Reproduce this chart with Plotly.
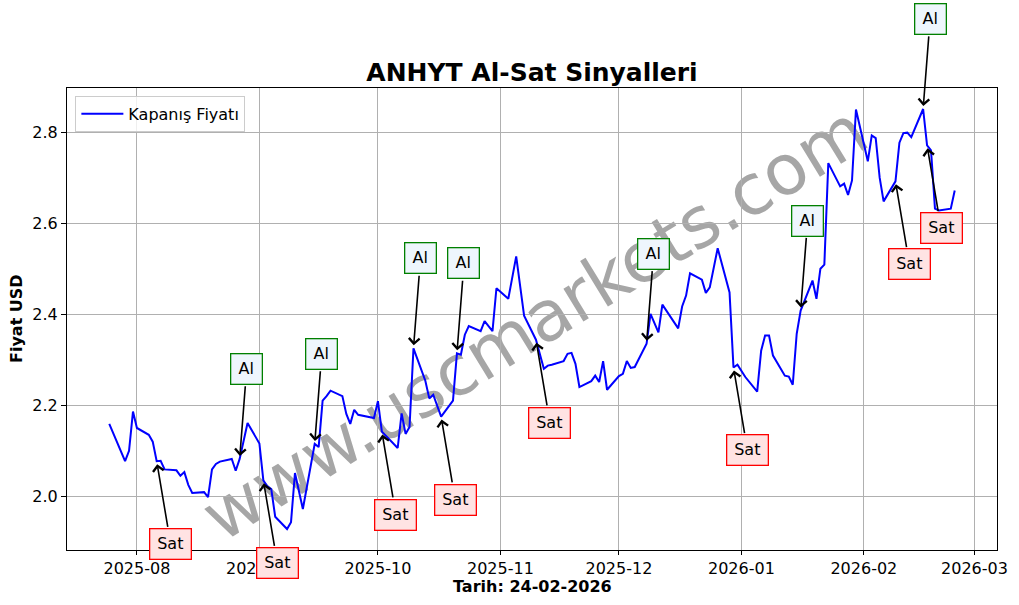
import plotly.graph_objects as go
import pandas as pd

# ---- data ----
dates = [
    "2025-07-25", "2025-07-29", "2025-07-30", "2025-07-31", "2025-08-01",
    "2025-08-04", "2025-08-05", "2025-08-06", "2025-08-07", "2025-08-08",
    "2025-08-11", "2025-08-12", "2025-08-13", "2025-08-14", "2025-08-15",
    "2025-08-18", "2025-08-19", "2025-08-20", "2025-08-21", "2025-08-22",
    "2025-08-25", "2025-08-26", "2025-08-27", "2025-08-29",
    "2025-09-01", "2025-09-02", "2025-09-03", "2025-09-04", "2025-09-05",
    "2025-09-08", "2025-09-09", "2025-09-10", "2025-09-12",
    "2025-09-15", "2025-09-16", "2025-09-17", "2025-09-18", "2025-09-19",
    "2025-09-22", "2025-09-23", "2025-09-24", "2025-09-25", "2025-09-26",
    "2025-09-29", "2025-09-30", "2025-10-01", "2025-10-02",
    "2025-10-06", "2025-10-07", "2025-10-08", "2025-10-09", "2025-10-10",
    "2025-10-13", "2025-10-14", "2025-10-15", "2025-10-17",
    "2025-10-20", "2025-10-21", "2025-10-22", "2025-10-23", "2025-10-24",
    "2025-10-27", "2025-10-28", "2025-10-30", "2025-10-31",
    "2025-11-03", "2025-11-04", "2025-11-05", "2025-11-07",
    "2025-11-10", "2025-11-12", "2025-11-13", "2025-11-14",
    "2025-11-17", "2025-11-18", "2025-11-19", "2025-11-20", "2025-11-21",
    "2025-11-24", "2025-11-25", "2025-11-26", "2025-11-27", "2025-11-28",
    "2025-12-01", "2025-12-02", "2025-12-03", "2025-12-04", "2025-12-05",
    "2025-12-08", "2025-12-09", "2025-12-11", "2025-12-12",
    "2025-12-16", "2025-12-17", "2025-12-18", "2025-12-19",
    "2025-12-22", "2025-12-23", "2025-12-24", "2025-12-26",
    "2025-12-29", "2025-12-30", "2025-12-31", "2026-01-02",
    "2026-01-05", "2026-01-06", "2026-01-07", "2026-01-08", "2026-01-09",
    "2026-01-12", "2026-01-13", "2026-01-14", "2026-01-15", "2026-01-16",
    "2026-01-19", "2026-01-20", "2026-01-21", "2026-01-22", "2026-01-23",
    "2026-01-26", "2026-01-27", "2026-01-28", "2026-01-29", "2026-01-30",
    "2026-02-02", "2026-02-03", "2026-02-04", "2026-02-05", "2026-02-06",
    "2026-02-09", "2026-02-10", "2026-02-11", "2026-02-12", "2026-02-13",
    "2026-02-16", "2026-02-17", "2026-02-18", "2026-02-19", "2026-02-20",
    "2026-02-23", "2026-02-24",
]
close = [
    2.159, 2.077, 2.100, 2.186, 2.150,
    2.135, 2.120, 2.077, 2.078, 2.059,
    2.057, 2.045, 2.053, 2.025, 2.007,
    2.009, 1.998, 2.059, 2.071, 2.076,
    2.082, 2.056, 2.082, 2.161,
    2.116, 2.035, 2.022, 2.016, 1.955,
    1.928, 1.943, 2.051, 1.972,
    2.115, 2.108, 2.210, 2.220, 2.232,
    2.220, 2.181, 2.159, 2.190, 2.179,
    2.175, 2.172, 2.209, 2.142,
    2.106, 2.182, 2.137, 2.152, 2.325,
    2.254, 2.215, 2.223, 2.175,
    2.210, 2.314, 2.311, 2.355, 2.374,
    2.363, 2.385, 2.363, 2.457,
    2.434, 2.481, 2.527, 2.397,
    2.344, 2.280, 2.287, 2.289,
    2.297, 2.313, 2.315, 2.291, 2.240,
    2.253, 2.265, 2.251, 2.297, 2.234,
    2.264, 2.269, 2.297, 2.282, 2.284,
    2.335, 2.401, 2.360, 2.421,
    2.369, 2.417, 2.441, 2.490,
    2.476, 2.447, 2.459, 2.545,
    2.448, 2.283, 2.289, 2.262,
    2.230, 2.320, 2.353, 2.353, 2.309,
    2.265, 2.263, 2.245, 2.357, 2.408,
    2.474, 2.434, 2.500, 2.509, 2.732,
    2.681, 2.687, 2.662, 2.694, 2.850,
    2.736, 2.793, 2.787, 2.700, 2.648,
    2.692, 2.777, 2.798, 2.799, 2.789,
    2.851, 2.771, 2.760, 2.632, 2.628,
    2.632, 2.672,
]

signal_dates = [
    "2025-08-06", "2025-08-27", "2025-09-02", "2025-09-15", "2025-10-02",
    "2025-10-10", "2025-10-17", "2025-10-21", "2025-11-10", "2025-12-08",
    "2025-12-30", "2026-01-16", "2026-02-09", "2026-02-16", "2026-02-17",
]
signal_types = [
    "Sat", "Al", "Sat", "Al", "Sat",
    "Al", "Sat", "Al", "Sat", "Al",
    "Sat", "Al", "Sat", "Al", "Sat",
]

title_text = "ANHYT Al-Sat Sinyalleri"
x_label = "Tarih: 24-02-2026"
y_label = "Fiyat USD"
legend_label = "Kapanış Fiyatı"
watermark = "www.uscmarkets.com"

FONT = "DejaVu Sans"

df = pd.DataFrame({"date": pd.to_datetime(dates), "close": close})
price_by_date = dict(zip(df["date"], df["close"]))

fig = go.Figure()
fig.add_trace(go.Scatter(
    x=df["date"], y=df["close"], mode="lines", name=legend_label,
    line=dict(color="blue", width=2),
))

# signal annotations
for d, t in zip(signal_dates, signal_types):
    dt = pd.Timestamp(d)
    p = price_by_date[dt]
    if t == "Al":
        ax, ay, edge, bg, w = 7, -90, "green", "#eef6fd", 20
    else:
        ax, ay, edge, bg, w = 14, 83, "red", "#ffe3e3", 30
    fig.add_annotation(
        x=dt, y=p, xref="x", yref="y", text=t, width=w,
        showarrow=True, ax=ax, ay=ay, axref="pixel", ayref="pixel",
        arrowhead=4, arrowsize=1.3, arrowwidth=1.6, arrowcolor="black",
        standoff=3, startstandoff=2,
        bgcolor=bg, bordercolor=edge, borderwidth=1.3, borderpad=5,
        font=dict(family=FONT, size=16, color="black"),
    )

# axis ranges like matplotlib's 5% margins
xmin, xmax = df["date"].min(), df["date"].max()
xpad = (xmax - xmin) * 0.05
ymin, ymax = min(close), max(close)
ypad = (ymax - ymin) * 0.05

# watermark behind the data
fig.add_shape(
    type="rect", xref="paper", yref="paper", x0=0.45, x1=0.55, y0=0.45, y1=0.55,
    line=dict(width=0), fillcolor="rgba(0,0,0,0)", layer="between",
    label=dict(text=watermark, textangle=-31.5, textposition="middle center",
               font=dict(family=FONT, size=70, color="rgba(128,128,128,0.7)")),
)

# axis titles as annotations
fig.add_annotation(text=x_label, xref="paper", yref="paper", x=0.5, y=0,
                   yshift=-36, showarrow=False, xanchor="center", yanchor="middle",
                   font=dict(family=FONT, size=16, color="black", weight="bold"))
fig.add_annotation(text=y_label, xref="paper", yref="paper", x=0, y=0.5,
                   xshift=-51, showarrow=False, xanchor="center", yanchor="middle",
                   textangle=-90,
                   font=dict(family=FONT, size=16, color="black", weight="bold"))

fig.update_layout(
    width=1019, height=605,
    margin=dict(l=67, r=22, t=88, b=55, autoexpand=False),
    paper_bgcolor="white", plot_bgcolor="white",
    font=dict(family=FONT, size=16, color="black"),
    title=dict(text=title_text, x=0.5, xref="paper", y=1 - 72 / 605, yref="container",
               xanchor="center", yanchor="middle",
               font=dict(family=FONT, size=25, color="black", weight="bold")),
    showlegend=True,
    legend=dict(x=0.009, y=0.983, xanchor="left", yanchor="top",
                bgcolor="rgba(255,255,255,0.8)", bordercolor="#cccccc", borderwidth=1,
                font=dict(family=FONT, size=16, color="black"),
                itemwidth=42),
)
fig.update_xaxes(
    range=[xmin - xpad, xmax + xpad], type="date",
    tickformat="%Y-%m", dtick="M1", tick0="2025-08-01",
    showgrid=True, gridcolor="#b0b0b0", gridwidth=1,
    showline=True, linecolor="black", linewidth=1.2, mirror=True,
    ticks="outside", ticklen=4, tickcolor="black", tickwidth=1.2,
    tickfont=dict(family=FONT, size=16, color="black"),
    zeroline=False,
)
fig.update_yaxes(
    range=[ymin - ypad, ymax + ypad],
    tickvals=[2.0, 2.2, 2.4, 2.6, 2.8], tickformat=".1f",
    showgrid=True, gridcolor="#b0b0b0", gridwidth=1,
    showline=True, linecolor="black", linewidth=1.2, mirror=True,
    ticks="outside", ticklen=5, tickcolor="black", tickwidth=1.2,
    tickfont=dict(family=FONT, size=16, color="black"),
    zeroline=False,
)

fig.write_html(
    "out.html",
    config={"displayModeBar": False},
    post_script="document.body.style.margin='0';document.body.style.padding='0';",
)
